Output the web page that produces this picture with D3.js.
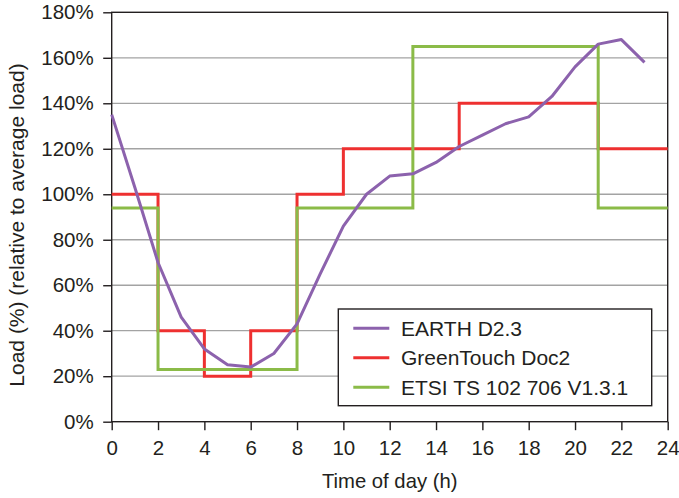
<!DOCTYPE html>
<html>
<head>
<meta charset="utf-8">
<script src="https://cdn.jsdelivr.net/npm/d3@7"></script>
<style>
  body { margin: 0; background: #fff; }
  text { font-family: "Liberation Sans", Arial, sans-serif; fill: #231f20; }
</style>
</head>
<body>
<div class="chart"></div>
<script>
// hours of the day for the EARTH profile
const hours = [0, 1, 2, 3, 4, 5, 6, 7, 8, 9, 10, 11, 12, 13, 14, 15, 16, 17, 18, 19, 20, 21, 22, 23];
const earthLoad = [135, 103, 70, 46, 32, 25, 24, 30, 43, 65, 86, 100, 108, 109, 114, 121, 126, 131, 134, 143, 156, 166, 168, 158];

// step profiles: change points and the level that starts there
const greenTouchHours = [0, 2, 4, 6, 8, 10, 15, 21, 24];
const greenTouchLoad = [100, 40, 20, 40, 100, 120, 140, 120, 120];
const etsiHours = [0, 2, 8, 13, 21, 24];
const etsiLoad = [94, 23, 94, 165, 94, 94];

const xTicks = [0, 2, 4, 6, 8, 10, 12, 14, 16, 18, 20, 22, 24];
const yTicks = [0, 20, 40, 60, 80, 100, 120, 140, 160, 180];
const seriesNames = ["EARTH D2.3", "GreenTouch Doc2", "ETSI TS 102 706 V1.3.1"];
const seriesColors = ["#8c62ad", "#ee3030", "#8bbb48"];

const width = 679;
const height = 498;
const margin = { top: 12.3, right: 11.3, bottom: 76.3, left: 111.7 };

const svg = d3.select(".chart")
  .append("svg")
  .attr("width", width)
  .attr("height", height);

const x = d3.scaleLinear().domain([0, 24]).range([margin.left, width - margin.right]);
const y = d3.scaleLinear().domain([0, 180]).range([height - margin.bottom, margin.top]);

// grid lines
svg.append("g")
  .selectAll("line")
  .data(yTicks.filter(d => d > 0 && d < 180))
  .enter()
  .append("line")
  .attr("x1", x(0)).attr("x2", x(24))
  .attr("y1", d => y(d)).attr("y2", d => y(d))
  .attr("stroke", "#a3a3a3")
  .attr("stroke-width", 1.3);

// axes
const yAxis = svg.append("g")
  .attr("transform", `translate(${x(0)},0)`)
  .call(d3.axisLeft(y).tickValues(yTicks).tickSize(8.5).tickPadding(9.5).tickFormat(d => d + "%"));
const xAxis = svg.append("g")
  .attr("transform", `translate(0,${y(0)})`)
  .call(d3.axisBottom(x).tickValues(xTicks).tickSize(8.5).tickPadding(10));

[yAxis, xAxis].forEach(g => {
  g.select(".domain").remove();
  g.selectAll("line").attr("stroke", "#231f20").attr("stroke-width", 1.4);
  g.selectAll("text").attr("font-size", 20.5).attr("fill", "#231f20")
    .style("font-family", "Liberation Sans, Arial, sans-serif");
});

// frame
svg.append("rect")
  .attr("x", x(0)).attr("y", y(180))
  .attr("width", x(24) - x(0)).attr("height", y(0) - y(180))
  .attr("fill", "none")
  .attr("stroke", "#231f20")
  .attr("stroke-width", 1.4);

// lines
const line = d3.line().x(d => x(d[0])).y(d => y(d[1]));
const stepLine = d3.line().x(d => x(d[0])).y(d => y(d[1])).curve(d3.curveStepAfter);

svg.append("path")
  .datum(greenTouchHours.map((h, i) => [h, greenTouchLoad[i]]))
  .attr("d", stepLine)
  .attr("fill", "none").attr("stroke", seriesColors[1]).attr("stroke-width", 3);

svg.append("path")
  .datum(etsiHours.map((h, i) => [h, etsiLoad[i]]))
  .attr("d", stepLine)
  .attr("fill", "none").attr("stroke", seriesColors[2]).attr("stroke-width", 3);

svg.append("path")
  .datum(hours.map((h, i) => [h, earthLoad[i]]))
  .attr("d", line)
  .attr("fill", "none").attr("stroke", seriesColors[0]).attr("stroke-width", 3)
  .attr("stroke-linejoin", "round");

// legend
const legend = svg.append("g");
legend.append("rect")
  .attr("x", 338.3).attr("y", 309)
  .attr("width", 313.4).attr("height", 96.7)
  .attr("fill", "#fff")
  .attr("stroke", "#231f20").attr("stroke-width", 1.4);

const rows = legend.selectAll("g.row")
  .data(seriesNames)
  .enter()
  .append("g")
  .attr("class", "row")
  .attr("transform", (d, i) => `translate(0,${328.3 + i * 29.5})`);
rows.append("line")
  .attr("x1", 353.3).attr("x2", 389.3)
  .attr("stroke", (d, i) => seriesColors[i])
  .attr("stroke-width", 3);
rows.append("text")
  .attr("x", 401)
  .attr("dy", "0.36em")
  .attr("font-size", 21)
  .text(d => d);

// axis titles
svg.append("text")
  .attr("x", (x(0) + x(24)) / 2)
  .attr("y", 488)
  .attr("text-anchor", "middle")
  .attr("font-size", 20.3)
  .text("Time of day (h)");

svg.append("text")
  .attr("transform", "translate(23.5,225) rotate(-90)")
  .attr("text-anchor", "middle")
  .attr("font-size", 21)
  .text("Load (%) (relative to average load)");
</script>
</body>
</html>
